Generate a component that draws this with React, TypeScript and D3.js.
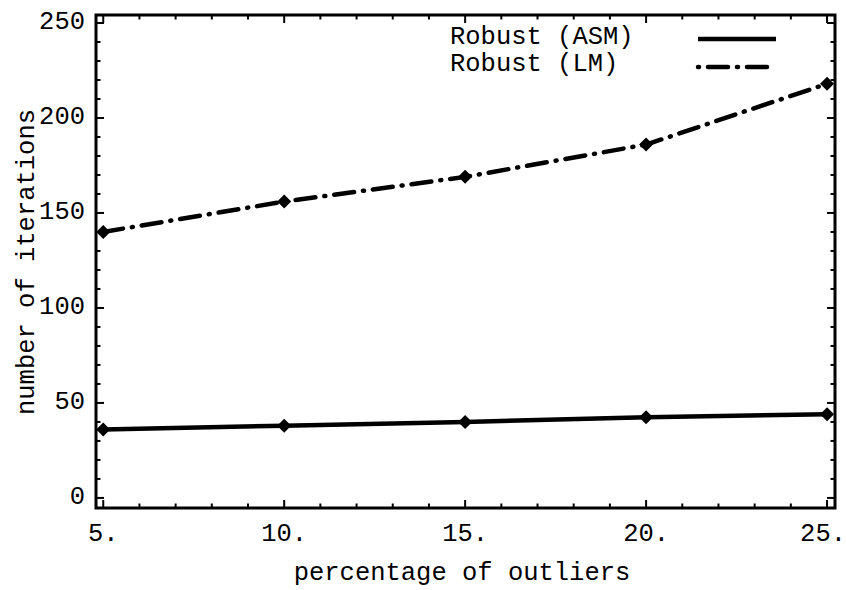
import React from "react";
import * as d3 from "d3";

// Percentage of outliers in the data set
const outlierPct = [5, 10, 15, 20, 25];
// Iteration counts for each method
const robustASM = [36, 38, 40, 42.5, 44];
const robustLM = [140, 156, 169, 186, 218];

const xMajorTicks = [5, 10, 15, 20, 25];
const xTickLabels = ["5.", "10.", "15.", "20.", "25."];
const yMajorTicks = [0, 50, 100, 150, 200, 250];
const yTickLabels = ["0", "50", "100", "150", "200", "250"];

const seriesNames = ["Robust (ASM)", "Robust (LM)"];

const W = 846;
const H = 590;
const frame = { left: 96, right: 835, top: 15, bottom: 508 };
const FONT = "'Liberation Mono', 'Courier New', monospace";
const FS = 25.5;

export default function App() {
  const x = d3.scaleLinear().domain([4.8, 25.22]).range([frame.left, frame.right]);
  const y = d3.scaleLinear().domain([-5.3, 254.2]).range([frame.bottom, frame.top]);

  const line = d3
    .line<number>()
    .x((_, i) => x(outlierPct[i]))
    .y((d) => y(d));

  const xMinor = d3.range(5, 26, 1).filter((v) => !xMajorTicks.includes(v));
  const yMinor = d3.range(0, 251, 10).filter((v) => !yMajorTicks.includes(v));

  const diamond = (cx: number, cy: number, r = 7) =>
    `M${cx},${cy - r}L${cx + r},${cy}L${cx},${cy + r}L${cx - r},${cy}Z`;

  const majLen = 8;
  const minLen = 4.5;

  // keep the last tick label inside the page
  const labelX = (v: number, label: string) => {
    const half = (label.length * FS * 0.6) / 2;
    return Math.min(x(v), W - half);
  };

  return (
    <svg
      width={W}
      height={H}
      style={{ position: "absolute", left: 0, top: 0, background: "#fff" }}
    >
      <rect x={0} y={0} width={W} height={H} fill="#fff" />

      {/* frame ticks, drawn inward on all four sides */}
      <g stroke="#000" strokeWidth={2}>
        {xMajorTicks.map((v) => (
          <g key={`xm${v}`}>
            <line x1={x(v)} x2={x(v)} y1={frame.bottom} y2={frame.bottom - majLen} />
            <line x1={x(v)} x2={x(v)} y1={frame.top} y2={frame.top + majLen} />
          </g>
        ))}
        {xMinor.map((v) => (
          <g key={`xn${v}`}>
            <line x1={x(v)} x2={x(v)} y1={frame.bottom} y2={frame.bottom - minLen} />
            <line x1={x(v)} x2={x(v)} y1={frame.top} y2={frame.top + minLen} />
          </g>
        ))}
        {yMajorTicks.map((v) => (
          <g key={`ym${v}`}>
            <line x1={frame.left} x2={frame.left + majLen} y1={y(v)} y2={y(v)} />
            <line x1={frame.right} x2={frame.right - majLen} y1={y(v)} y2={y(v)} />
          </g>
        ))}
        {yMinor.map((v) => (
          <g key={`yn${v}`}>
            <line x1={frame.left} x2={frame.left + minLen} y1={y(v)} y2={y(v)} />
            <line x1={frame.right} x2={frame.right - minLen} y1={y(v)} y2={y(v)} />
          </g>
        ))}
      </g>

      <rect
        x={frame.left}
        y={frame.top}
        width={frame.right - frame.left}
        height={frame.bottom - frame.top}
        fill="none"
        stroke="#000"
        strokeWidth={3}
      />

      {/* tick labels */}
      <g fontFamily={FONT} fontSize={FS} fill="#000">
        {xMajorTicks.map((v, i) => (
          <text
            key={`xl${v}`}
            x={labelX(v, xTickLabels[i])}
            y={541}
            textAnchor="middle"
          >
            {xTickLabels[i]}
          </text>
        ))}
        {yMajorTicks.map((v, i) => (
          <text
            key={`yl${v}`}
            x={85}
            y={y(v)}
            textAnchor="end"
            dominantBaseline="central"
          >
            {yTickLabels[i]}
          </text>
        ))}
      </g>

      {/* axis titles */}
      <text
        x={462}
        y={580}
        textAnchor="middle"
        fontFamily={FONT}
        fontSize={FS}
        fill="#000"
      >
        percentage of outliers
      </text>
      <text
        transform={`translate(27,${262}) rotate(-90)`}
        textAnchor="middle"
        dominantBaseline="central"
        fontFamily={FONT}
        fontSize={FS}
        fill="#000"
      >
        number of iterations
      </text>

      {/* series lines */}
      <path
        d={line(robustASM) || ""}
        fill="none"
        stroke="#000"
        strokeWidth={4.5}
        strokeLinejoin="round"
      />
      <path
        d={line(robustLM) || ""}
        fill="none"
        stroke="#000"
        strokeWidth={4.5}
        strokeDasharray="20 9 1 9"
        strokeLinecap="round"
        strokeLinejoin="round"
      />

      {/* point markers */}
      <g fill="#000">
        {robustASM.map((v, i) => (
          <path key={`a${i}`} d={diamond(x(outlierPct[i]), y(v))} />
        ))}
        {robustLM.map((v, i) => (
          <path key={`l${i}`} d={diamond(x(outlierPct[i]), y(v))} />
        ))}
      </g>

      {/* legend */}
      <g fontFamily={FONT} fontSize={FS} fill="#000">
        <text x={450} y={37} dominantBaseline="central">
          {seriesNames[0]}
        </text>
        <text x={450} y={64} dominantBaseline="central">
          {seriesNames[1]}
        </text>
      </g>
      <line x1={698} x2={776} y1={39} y2={39} stroke="#000" strokeWidth={4.5} />
      <line
        x1={698}
        x2={776}
        y1={67}
        y2={67}
        stroke="#000"
        strokeWidth={4.5}
        strokeDasharray="1 9 20 9"
        strokeLinecap="round"
      />
    </svg>
  );
}
